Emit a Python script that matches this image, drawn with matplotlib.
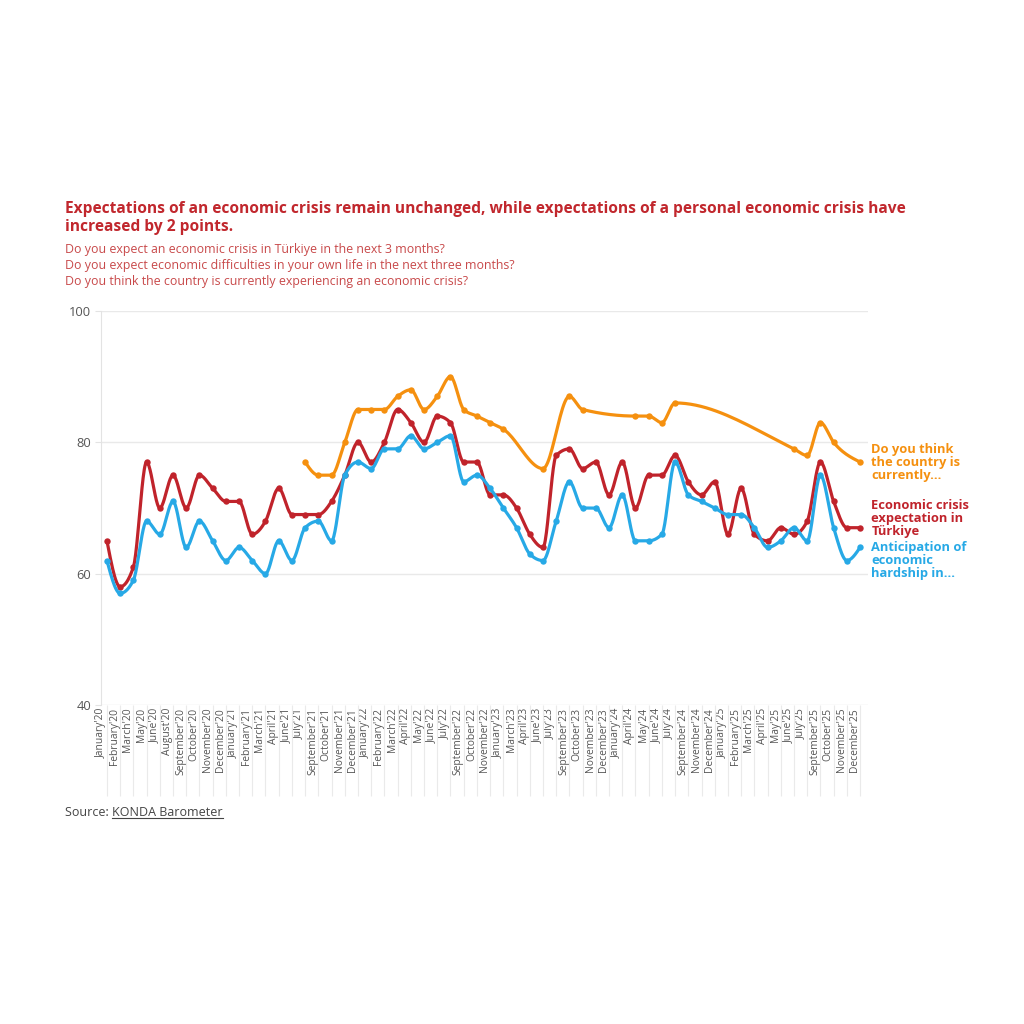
import numpy as np
import matplotlib.pyplot as plt

months = [
    "January'20", "February'20", "March'20", "May'20", "June'20", "August'20",
    "September'20", "October'20", "November'20", "December'20",
    "January'21", "February'21", "March'21", "April'21", "June'21", "July'21",
    "September'21", "October'21", "November'21", "December'21",
    "January'22", "February'22", "March'22", "April'22", "May'22", "June'22",
    "July'22", "September'22", "October'22", "November'22",
    "January'23", "March'23", "April'23", "June'23", "July'23", "September'23",
    "October'23", "November'23", "December'23",
    "January'24", "April'24", "May'24", "June'24", "July'24", "September'24",
    "November'24", "December'24",
    "January'25", "February'25", "March'25", "April'25", "May'25", "June'25",
    "July'25", "September'25", "October'25", "November'25", "December'25",
]

crisis_turkiye = [
    65, 58, 61, 77, 70, 75, 70, 75, 73, 71,
    71, 66, 68, 73, 69, 69, 69, 71, 75, 80,
    77, 80, 85, 83, 80, 84, 83, 77, 77, 72,
    72, 70, 66, 64, 78, 79, 76, 77, 72,
    77, 70, 75, 75, 78, 74, 72, 74,
    66, 73, 66, 65, 67, 66, 68, 77, 71, 67, 67,
]

hardship = [
    62, 57, 59, 68, 66, 71, 64, 68, 65, 62,
    64, 62, 60, 65, 62, 67, 68, 65, 75, 77,
    76, 79, 79, 81, 79, 80, 81, 74, 75, 73,
    70, 67, 63, 62, 68, 74, 70, 70, 67,
    72, 65, 65, 66, 77, 72, 71, 70,
    69, 69, 67, 64, 65, 67, 65, 75, 67, 62, 64,
]

nan = np.nan
country_now = [
    nan, nan, nan, nan, nan, nan, nan, nan, nan, nan,
    nan, nan, nan, nan, nan, 77, 75, 75, 80, 85,
    85, 85, 87, 88, 85, 87, 90, 85, 84, 83,
    82, nan, nan, 76, nan, 87, 85, nan, nan,
    nan, 84, 84, 83, 86, nan, nan, nan,
    nan, nan, nan, nan, nan, 79, 78, 83, 80, nan, 77,
]

ORANGE = "#f5900f"
RED = "#c0232b"
BLUE = "#27a9e6"


def monotone_curve(x, y, n=24):
    # same shape as d3.curveMonotoneX
    x = np.asarray(x, float)
    y = np.asarray(y, float)
    if len(x) < 3:
        return x, y
    h = np.diff(x)
    s = np.diff(y) / h
    t = np.zeros(len(x))
    for i in range(1, len(x) - 1):
        p = (s[i - 1] * h[i] + s[i] * h[i - 1]) / (h[i - 1] + h[i])
        sg = (1 if s[i - 1] >= 0 else -1) + (1 if s[i] >= 0 else -1)
        t[i] = sg * min(abs(s[i - 1]), abs(s[i]), 0.5 * abs(p))
    t[0] = (3 * s[0] - t[1]) / 2
    t[-1] = (3 * s[-1] - t[-2]) / 2
    xs, ys = [], []
    u = np.linspace(0, 1, n)
    for i in range(len(x) - 1):
        h00 = 2 * u**3 - 3 * u**2 + 1
        h10 = u**3 - 2 * u**2 + u
        h01 = -2 * u**3 + 3 * u**2
        h11 = u**3 - u**2
        xs.append(x[i] + u * h[i])
        ys.append(h00 * y[i] + h10 * h[i] * t[i] + h01 * y[i + 1] + h11 * h[i] * t[i + 1])
    return np.concatenate(xs), np.concatenate(ys)


plt.rcParams["font.family"] = ["Open Sans", "DejaVu Sans"]

fig = plt.figure(figsize=(10.24, 10.24), dpi=100)
ax = fig.add_axes([101 / 1024, 1 - 705 / 1024, 767 / 1024, 394 / 1024])

xpos = np.arange(len(months))
for vals, col, z in [(country_now, ORANGE, 3), (crisis_turkiye, RED, 4), (hardship, BLUE, 5)]:
    v = np.array(vals, float)
    ok = ~np.isnan(v)
    cx, cy = monotone_curve(xpos[ok], v[ok])
    ax.plot(cx, cy, color=col, lw=2.3, solid_capstyle="round", zorder=z)
    ax.plot(xpos[ok], v[ok], "o", color=col, ms=4.6, mec="none", zorder=z)

ax.set_xlim(-0.45, 57.6)
ax.set_ylim(40, 100)
ax.set_yticks([40, 60, 80, 100])
ax.grid(axis="y", color="#e9e9e9", lw=1)
ax.set_axisbelow(True)
for side in ["top", "right", "bottom"]:
    ax.spines[side].set_visible(False)
ax.spines["left"].set_color("#e3e3e3")
ax.tick_params(axis="y", length=4, color="#e3e3e3", labelsize=9.3, labelcolor="#555555", pad=3)

ax.set_xticks(xpos)
ax.set_xticklabels(months, rotation=90, ha="right", va="top", fontsize=7.4, color="#555555")
ax.tick_params(axis="x", length=0, pad=2)
ax.vlines(xpos, -0.23, 0, transform=ax.get_xaxis_transform(), color="#eaeaea", lw=0.8, clip_on=False)

# labels at the right end of the lines
lx = 57.85
lab = dict(fontsize=9.3, fontweight="bold", va="center", ha="left", linespacing=1.0, clip_on=False)
ax.text(lx, 77, "Do you think\nthe country is\ncurrently...", color=ORANGE, **lab)
ax.text(lx, 68.4, "Economic crisis\nexpectation in\nTürkiye", color=RED, **lab)
ax.text(lx, 62.0, "Anticipation of\neconomic\nhardship in...", color=BLUE, **lab)

fig.text(65 / 1024, 1 - 201 / 1024,
         "Expectations of an economic crisis remain unchanged, while expectations of a personal economic crisis have\nincreased by 2 points.",
         color="#c1272d", fontsize=11.2, fontweight="bold", va="top", ha="left", linespacing=1.15)
fig.text(65 / 1024, 1 - 243 / 1024,
         "Do you expect an economic crisis in Türkiye in the next 3 months?\n"
         "Do you expect economic difficulties in your own life in the next three months?\n"
         "Do you think the country is currently experiencing an economic crisis?",
         color="#c8494a", fontsize=8.9, va="top", ha="left", linespacing=1.32)

src1 = fig.text(65 / 1024, 1 - 812 / 1024, "Source: ", color="#444444", fontsize=9.0, va="center", ha="left")
fig.canvas.draw()
bb = src1.get_window_extent()
src2 = fig.text(bb.x1 / 1024, 1 - 812 / 1024, "KONDA Barometer", color="#444444", fontsize=9.0, va="center", ha="left")
fig.canvas.draw()
bb2 = src2.get_window_extent()
fig.add_artist(plt.Line2D([bb2.x0 / 1024, bb2.x1 / 1024], [(bb2.y0 + 1) / 1024] * 2,
                          color="#444444", lw=0.8, transform=fig.transFigure))

fig.savefig("out.png", dpi=100, facecolor="white")
